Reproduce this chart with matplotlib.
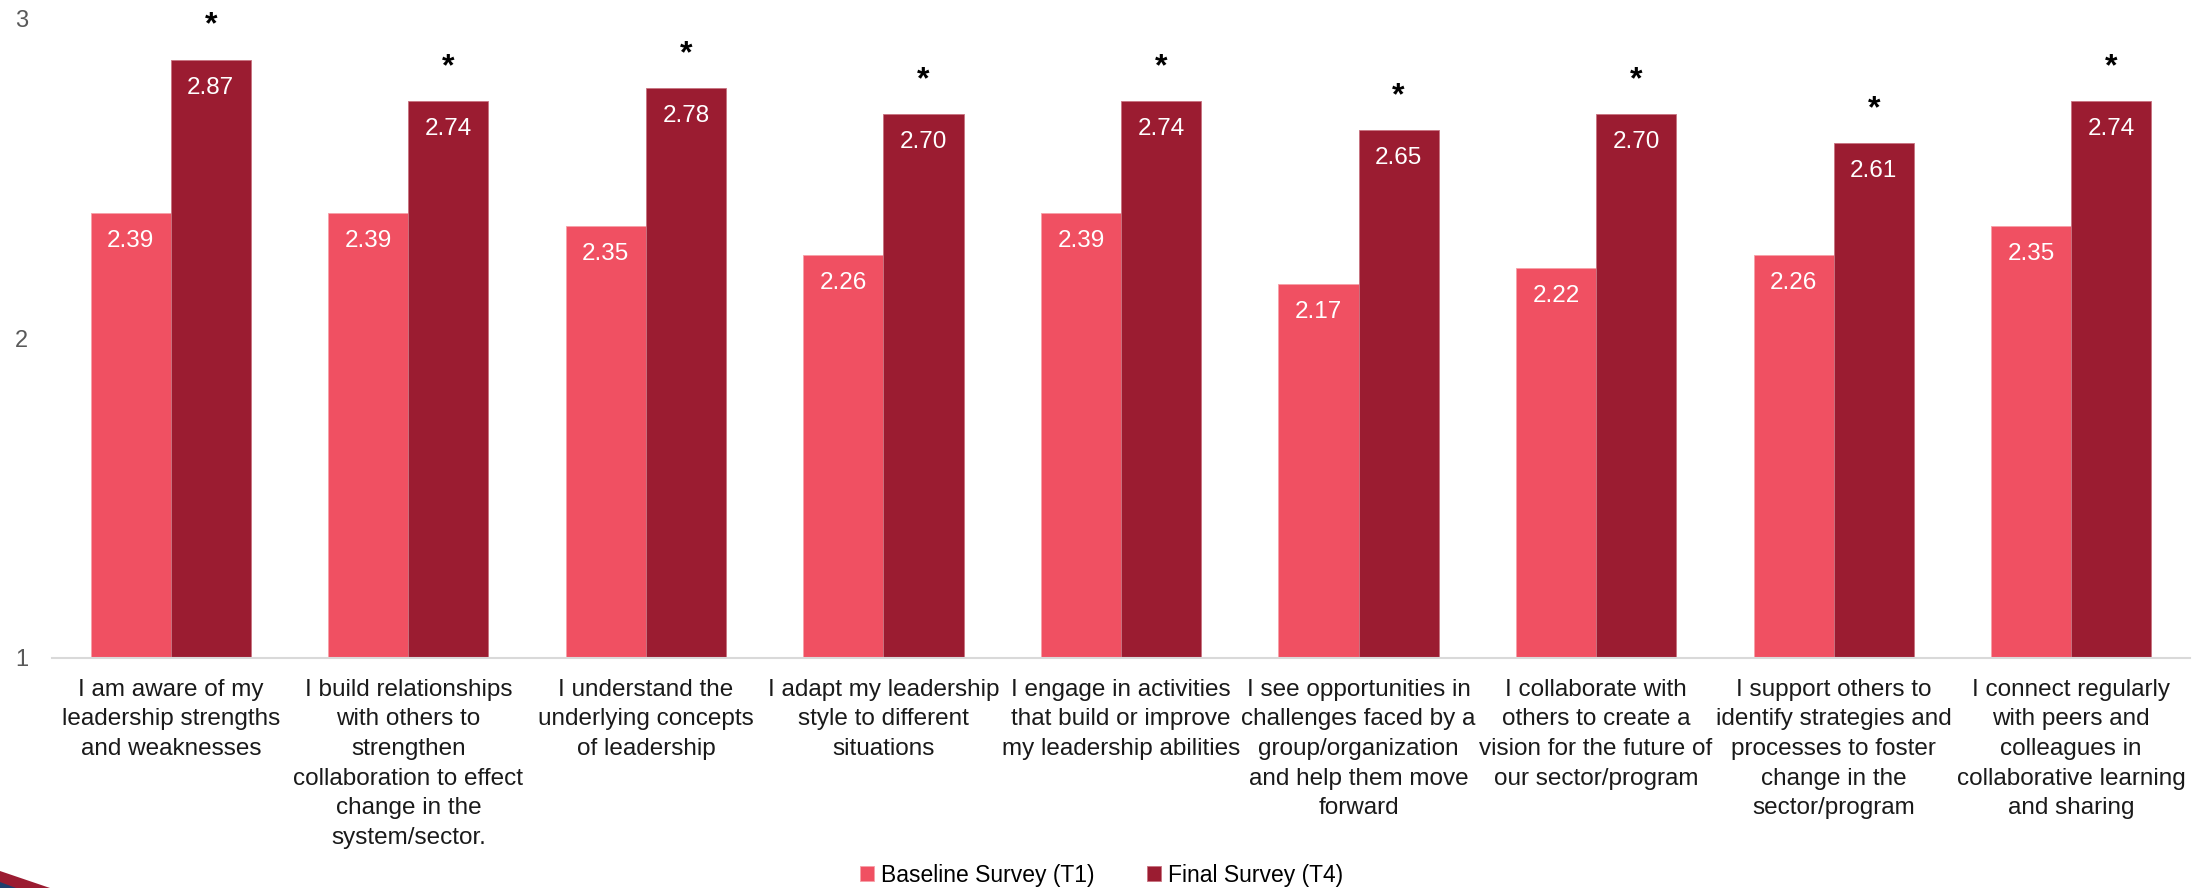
import numpy as np
import matplotlib
matplotlib.use("Agg")
import matplotlib.pyplot as plt
from matplotlib.patches import Polygon

plt.rcParams['font.family'] = ['Liberation Sans', 'DejaVu Sans']

statements = [
    "I am aware of my\nleadership strengths\nand weaknesses",
    "I build relationships\nwith others to\nstrengthen\ncollaboration to effect\nchange in the\nsystem/sector.",
    "I understand the\nunderlying concepts\nof leadership",
    "I adapt my leadership\nstyle to different\nsituations",
    "I engage in activities\nthat build or improve\nmy leadership abilities",
    "I see opportunities in\nchallenges faced by a\ngroup/organization\nand help them move\nforward",
    "I collaborate with\nothers to create a\nvision for the future of\nour sector/program",
    "I support others to\nidentify strategies and\nprocesses to foster\nchange in the\nsector/program",
    "I connect regularly\nwith peers and\ncolleagues in\ncollaborative learning\nand sharing",
]
baseline_t1 = [2.39, 2.39, 2.35, 2.26, 2.39, 2.17, 2.22, 2.26, 2.35]
final_t4 = [2.87, 2.74, 2.78, 2.70, 2.74, 2.65, 2.70, 2.61, 2.74]
significant = [True] * 9
series_names = ["Baseline Survey (T1)", "Final Survey (T4)"]

light_red = "#F05062"
dark_red = "#9B1C31"

fig = plt.figure(figsize=(22.03, 8.88), dpi=100)
ax = fig.add_axes([52 / 2203, 230 / 888, (2190 - 52) / 2203, 640 / 888])

x = np.arange(len(statements))
width = 0.337

b1 = ax.bar(x - width / 2, baseline_t1, width, bottom=0, color=light_red,
            edgecolor="#F6A0A8", linewidth=0.6, label=series_names[0])
b2 = ax.bar(x + width / 2, final_t4, width, bottom=0, color=dark_red,
            edgecolor="#C87280", linewidth=0.6, label=series_names[1])

# value labels inside the top of each bar
for bars, vals in ((b1, baseline_t1), (b2, final_t4)):
    for rect, v in zip(bars, vals):
        ax.annotate(f"{v:.2f}", (rect.get_x() + rect.get_width() / 2, v),
                    xytext=(0, -28), textcoords="offset pixels",
                    ha="center", va="center", color="white", fontsize=17.5)

# significance markers above the final survey bars
for rect, v, sig in zip(b2, final_t4, significant):
    if sig:
        ax.annotate("*", (rect.get_x() + rect.get_width() / 2, v),
                    xytext=(0, 34), textcoords="offset pixels",
                    ha="center", va="center", color="black", fontsize=23,
                    fontweight="bold", annotation_clip=False)

ax.set_ylim(1, 3)
ax.set_xlim(-0.5, len(statements) - 0.5)
ax.set_yticks([1, 2, 3])
ax.tick_params(axis="y", length=0, pad=17, labelsize=17, labelcolor="#595959")
ax.set_xticks(x)
ax.set_xticklabels(statements, fontsize=17.5, color="#1a1a1a", linespacing=1.45)
ax.tick_params(axis="x", length=0, pad=15)

for side in ("top", "right", "left"):
    ax.spines[side].set_visible(False)
ax.spines["bottom"].set_color("#D9D9D9")
ax.spines["bottom"].set_linewidth(1.5)

fig.legend(handles=[b1, b2], labels=series_names, loc="center",
           bbox_to_anchor=(0.5, 1 - 875 / 888), ncol=2, frameon=False,
           fontsize=16.5, handlelength=0.6, handleheight=0.6,
           handletextpad=0.3, columnspacing=2.3)

# decorative corner stripe
fig.patches.append(Polygon([(0, 0), (0, 17 / 888), (50 / 2203, 0)],
                           closed=True, transform=fig.transFigure,
                           facecolor=dark_red, edgecolor="none"))
fig.patches.append(Polygon([(0, 0), (0, 6 / 888), (16 / 2203, 0)],
                           closed=True, transform=fig.transFigure,
                           facecolor="#1F3F6E", edgecolor="none"))

fig.savefig("out.png", dpi=100, facecolor="white")
